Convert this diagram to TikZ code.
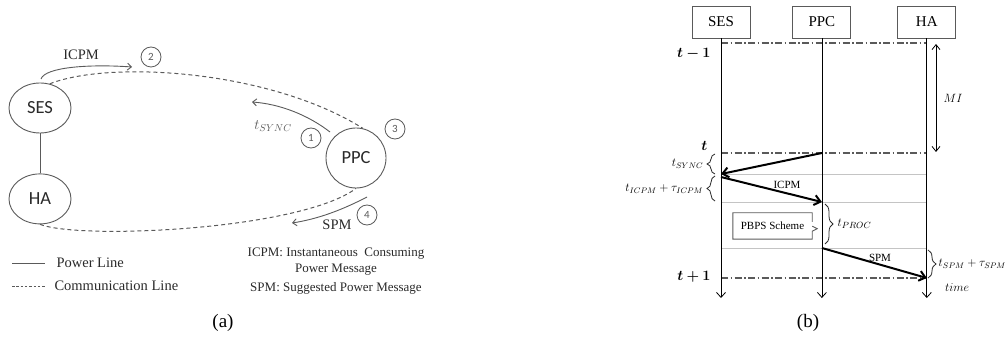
\documentclass[tikz,border=0pt]{standalone}
\usepackage{amsmath,bm}
\usepackage{fontspec}
\setmainfont{Liberation Serif}
\newfontfamily\labelsans{Carlito}
\usetikzlibrary{arrows.meta, positioning, shapes.geometric, decorations.pathreplacing}

\definecolor{linegray}{HTML}{5A5A5A}
\definecolor{textgray}{HTML}{2A2A2A}
\definecolor{slotgray}{HTML}{C4C4C4}

\begin{document}
\begin{tikzpicture}[
x=1pt, y=-1pt,
unit/.style={draw=linegray, line width=0.9pt, ellipse, minimum width=62pt, minimum height=50pt, inner sep=0pt, text=textgray, font=\labelsans\fontsize{18.5}{18.5}\selectfont},
num/.style={draw=linegray, line width=0.8pt, circle, minimum size=20pt, inner sep=0pt, text=linegray, font=\labelsans\fontsize{11}{11}\selectfont},
comm/.style={draw=linegray, line width=1pt, dash pattern=on 4pt off 3pt},
msg/.style={draw=linegray, line width=0.9pt, -{Straight Barb[length=4pt, width=7pt]}},
txt/.style={text=textgray, font=\fontsize{14.5}{16}\selectfont},
lifebox/.style={draw=linegray, line width=0.9pt, minimum width=58pt, minimum height=32pt, inner sep=0pt, font=\fontsize{15}{15}\selectfont},
lifeline/.style={line width=0.8pt, -{Straight Barb[length=5pt, width=9pt]}},
timemark/.style={draw=linegray, line width=1.2pt, dash pattern=on 7pt off 2.5pt on 1.5pt off 2.5pt},
slot/.style={draw=slotgray, line width=0.7pt},
signal/.style={line width=2pt, -{Straight Barb[length=6pt, width=10pt]}},
span/.style={draw=textgray, line width=0.8pt, decorate, decoration={brace, amplitude=8pt}},
small/.style={font=\fontsize{11}{11}\selectfont}
]
\useasboundingbox (0,0) rectangle (1007,339);

% (a) network
\node[unit] (ses) at (40,108) {SES};
\node[unit, below=40pt of ses] (ha) {HA};
\node[unit, circle, minimum size=60pt] (ppc) at (356,158) {PPC};

\node[num] (n1) at (311,138) {1};
\node[num] (n2) at (151,57) {2};
\node[num] (n3) at (395,129) {3};
\node[num] (n4) at (367,215) {4};

\draw[draw=linegray, line width=0.9pt] (ses) -- (ha);
\draw[comm] (ses.68) .. controls (110,60) and (270,70) .. (ppc.77);
\draw[comm] (ha.south) .. controls (80,240) and (300,230) .. (ppc.south);

\coordinate (icpm start) at (41,79);
\coordinate (icpm end) at (132,67);
\coordinate (sync start) at (330,132);
\coordinate (sync end) at (252,102);
\coordinate (spm start) at (367,197);
\coordinate (spm end) at (292,223);
\draw[msg] (icpm start) .. controls (45,67) and (90,64) .. (icpm end);
\draw[msg] (sync start) .. controls (308,115) and (280,104) .. (sync end);
\draw[msg] (spm start) .. controls (342,210) and (318,219) .. (spm end);

\node[txt] (icpm) at (81,55) {ICPM};
\node[text=linegray, font=\fontsize{14}{14}\selectfont] (tsync) at (273,126) {$t_{SYNC}$};
\node[txt] (spm) at (337,225) {SPM};

% legend
\coordinate (pl) at (12,263);
\coordinate (cl) at (12,286);
\draw[draw=linegray, line width=0.9pt] (pl) -- ++(33,0);
\draw[comm, line width=0.8pt, dash pattern=on 2.5pt off 1.8pt] (cl) -- ++(33,0);
\node[txt, anchor=west] (pltext) at (53,263) {Power Line};
\node[txt, anchor=west] (cltext) at (51,286) {Communication Line};

\node[txt, align=center, font=\fontsize{13}{15.5}\selectfont] (icpmdef) at (336,261.5) {ICPM: Instantaneous\ \ Consuming\\Power Message};
\node[txt, font=\fontsize{13}{15.5}\selectfont] (spmdef) at (336,288) {SPM: Suggested Power Message};
\node[font=\fontsize{19}{19}\selectfont] (cap a) at (223,323) {(a)};

% (b) timing
\node[lifebox] (sesbox) at (721,22) {SES};
\node[lifebox, right=42pt of sesbox] (ppcbox) {PPC};
\node[lifebox, right=46pt of ppcbox] (habox) {HA};

\coordinate (bottom) at (0,298);
\coordinate (tprev) at (0,43);
\coordinate (tnow) at (0,153);
\coordinate (tnext) at (0,278);
\coordinate (sync) at (0,174);
\coordinate (icpmin) at (0,202);
\coordinate (proc) at (0,248);

\foreach \row in {sync, icpmin, proc}
  \draw[slot] (sesbox.south |- \row) -- (habox.south |- \row);
\foreach \row in {tprev, tnow, tnext}
  \draw[timemark] (sesbox.south |- \row) -- (habox.south |- \row);

\foreach \who in {sesbox, ppcbox, habox}
  \draw[lifeline] (\who.south) -- (\who.south |- bottom);

\draw[signal] (ppcbox.south |- tnow) -- (sesbox.south |- sync);
\draw[signal] ([yshift=-3pt]sesbox.south |- sync) -- (ppcbox.south |- icpmin);
\draw[signal] (ppcbox.south |- proc) -- (habox.south |- tnext);

\node[small] (icpm b) at (787,185) {ICPM};
\node[small] (spm b) at (880,258) {SPM};

\node[small, minimum width=79pt, minimum height=26pt, inner sep=0pt] (pbps) at (772.5,226) {PBPS Scheme};
\draw[draw=linegray, line width=0.9pt] (pbps.east) ++(0,-4) -- (pbps.north east) -- (pbps.north west)
  -- (pbps.south west) -- (pbps.south east) -- ++(0,-8) -- ++(5,-2.5) -- ++(-5,-2.5);

\draw[<->, >={Straight Barb[length=5pt, width=8pt]}, line width=0.8pt] (936,44) -- (936,152)
  node[midway, right=4pt, font=\fontsize{12}{12}\selectfont] (mi) {$MI$};

\draw[span] (715,174) -- (715,154) node[midway, left=8pt, font=\fontsize{12}{12}\selectfont] (tsyncb) {$t_{SYNC}$};
\draw[span] (715,201) -- (715,176) node[midway, left=8pt, font=\fontsize{12}{12}\selectfont] (ticpm) {$t_{ICPM}+\tau_{ICPM}$};
\draw[span] (825,204) -- (825,244) node[midway, right=9pt, font=\fontsize{13}{13}\selectfont] (tproc) {$t_{PROC}$};
\draw[span] (928,250) -- (928,278) node[midway, right=7pt, font=\fontsize{11.5}{11.5}\selectfont] (tspm) {$t_{SPM}+\tau_{SPM}$};

\node[anchor=east, font=\fontsize{14}{14}\selectfont] (lprev) at (714,54) {$\bm{t-1}$};
\node[anchor=east, font=\fontsize{14}{14}\selectfont] (lnow) at (711,146) {$\bm{t}$};
\node[anchor=east, font=\fontsize{14}{14}\selectfont] (lnext) at (714,277) {$\bm{t+1}$};
\node[font=\fontsize{13}{13}\selectfont] (time) at (957,288) {$time$};

\node[font=\fontsize{19}{19}\selectfont] (cap b) at (808,323) {(b)};
\end{tikzpicture}
\end{document}
